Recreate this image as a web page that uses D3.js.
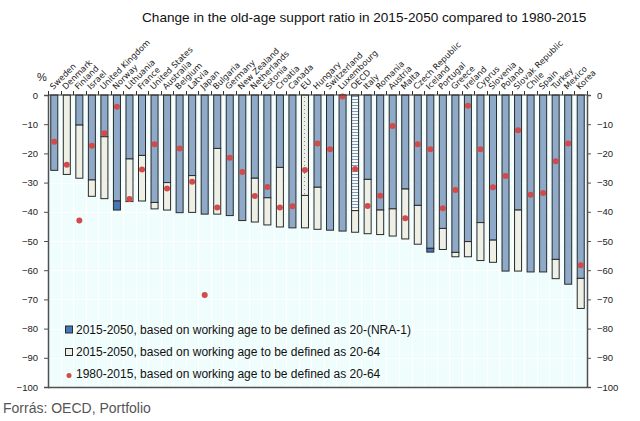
<!DOCTYPE html>
<html><head><meta charset="utf-8">
<script src="https://cdn.jsdelivr.net/npm/d3@7/dist/d3.min.js"></script>
<style>body{margin:0;background:#fff} svg{display:block}</style>
</head><body>
<svg id="chart" width="640" height="421"></svg>
<script>
const countries = ["Sweden","Denmark","Finland","Israel","United Kingdom","Norway","Lithuania","France","United States","Australia","Belgium","Latvia","Japan","Bulgaria","Germany","New Zealand","Netherlands","Estonia","Croatia","Canada","EU","Hungary","Switzerland","Luxembourg","OECD","Italy","Romania","Austria","Malta","Czech Republic","Iceland","Portugal","Greece","Ireland","Cyprus","Slovenia","Poland","Slovak Republic","Chile","Spain","Turkey","Mexico","Korea"];
// 2015-2050, working age 20-(NRA-1)
const ratioNRA = [-25.8,0,-10.3,-29.1,-14.3,-39.4,-21.9,-20.7,-36.8,-30.0,-40.3,-27.6,-40.8,-18.3,-41.3,-43.0,-28.5,-35.2,-24.8,-45.5,-34.4,-31.6,-46.3,-46.6,-39.6,-28.9,-39.4,-39.0,-32.2,-37.8,-53.8,-45.7,-53.9,-50.2,-43.7,-49.7,-60.3,-39.4,-60.6,-60.6,-56.3,-64.8,-62.8];
// 2015-2050, working age 20-64
const ratio2064 = [-25.8,-27.2,-28.5,-34.7,-35.5,-36.3,-36.5,-36.3,-39.0,-39.4,-40.3,-40.2,-40.8,-40.8,-41.3,-43.0,-43.5,-44.5,-45.2,-45.5,-45.5,-46.0,-46.3,-46.6,-47.0,-47.5,-47.8,-48.3,-49.3,-51.1,-52.5,-52.9,-55.4,-55.4,-56.7,-57.3,-60.3,-60.3,-60.6,-60.6,-62.9,-64.8,-73.1];
// 1980-2015, working age 20-64
const ratioPast = [-16.0,-23.9,-43.0,-17.4,-13.1,-4.0,-35.6,-25.5,-16.9,-32.0,-18.3,-29.7,-68.5,-38.5,-21.5,-26.4,-34.6,-31.5,-38.5,-38.1,-25.7,-16.6,-18.6,-0.5,-25.3,-38.0,-34.5,-10.6,-42.2,-16.9,-18.6,-38.8,-32.5,-3.7,-18.6,-31.6,-27.7,-12.1,-34.2,-33.6,-22.7,-16.6,-58.3];
const yTicks = [0,-10,-20,-30,-40,-50,-60,-70,-80,-90,-100];
const legendLabels = ["2015-2050, based on working age to be defined as 20-(NRA-1)","2015-2050, based on working age to be defined as 20-64","1980-2015, based on working age to be defined as 20-64"];
const titleText = "Change in the old-age support ratio in 2015-2050 compared to 1980-2015";
const sourceText = "Forrás: OECD, Portfolio";
const patterned = {"EU":"patEU","OECD":"patOECD"};

const C = {bg:"#f0fdfd", light:"#8eaac8", dark:"#4677b8", ivory:"#eef0e5", dot:"#d24a4a", stroke:"#2a2a2a", axis:"#505050"};
const svg = d3.select("#chart");
const P = {left:48, right:587, top:95, bottom:387};
const x = d3.scaleBand().domain(countries).range([P.left, P.right]).paddingInner(0.44).paddingOuter(0.22);
const y = d3.scaleLinear().domain([0,-100]).range([P.top, P.bottom]);
const data = countries.map((c,i)=>({c, nra:ratioNRA[i], w:ratio2064[i], past:ratioPast[i]}));

const defs = svg.append("defs");
const p1 = defs.append("pattern").attr("id","patEU").attr("patternUnits","userSpaceOnUse").attr("width",4).attr("height",4);
p1.append("rect").attr("width",4).attr("height",4).attr("fill",C.ivory);
p1.append("rect").attr("x",0).attr("y",1).attr("width",1).attr("height",1).attr("fill","#6d8fb8");
const p2 = defs.append("pattern").attr("id","patOECD").attr("patternUnits","userSpaceOnUse").attr("width",4).attr("height",3);
p2.append("rect").attr("width",4).attr("height",3).attr("fill","#f8f8f4");
p2.append("rect").attr("x",0).attr("y",0).attr("width",4).attr("height",1).attr("fill","#7e9dc2");

// plot background
svg.append("rect").attr("x",P.left).attr("y",P.top).attr("width",P.right-P.left).attr("height",P.bottom-P.top).attr("fill",C.bg);
// faint grid
const grid = svg.append("g").attr("stroke","#ffffff").attr("stroke-width",1);
grid.selectAll("line.h").data(yTicks.slice(1,-1)).join("line").attr("x1",P.left).attr("x2",P.right).attr("y1",d=>Math.round(y(d))+0.5).attr("y2",d=>Math.round(y(d))+0.5);
grid.selectAll("line.v").data(countries.slice(1)).join("line").attr("y1",P.top).attr("y2",P.bottom).attr("x1",d=>Math.round(x(d)-x.step()*x.paddingInner()/2)+0.5).attr("x2",d=>Math.round(x(d)-x.step()*x.paddingInner()/2)+0.5);

// bars
const bars = svg.append("g").attr("stroke",C.stroke).attr("stroke-width",1);
data.forEach(d=>{
  const bx = x(d.c), bw = x.bandwidth();
  const common = Math.max(d.nra, d.w);
  if (common < 0) {
    bars.append("rect").attr("x",bx).attr("y",y(0)).attr("width",bw).attr("height",y(common)-y(0))
      .attr("fill", patterned[d.c] ? `url(#${patterned[d.c]})` : C.light);
  }
  if (d.nra < d.w) {
    bars.append("rect").attr("x",bx).attr("y",y(d.w)).attr("width",bw).attr("height",y(d.nra)-y(d.w)).attr("fill",C.dark);
  } else if (d.w < d.nra) {
    bars.append("rect").attr("x",bx).attr("y",y(d.nra)).attr("width",bw).attr("height",y(d.w)-y(d.nra)).attr("fill",C.ivory);
  }
});
// dots
svg.append("g").selectAll("circle").data(data).join("circle")
  .attr("cx",d=>x(d.c)+x.bandwidth()/2).attr("cy",d=>y(d.past)).attr("r",3).attr("fill",C.dot);

// axes
const fontTick = "'Liberation Sans', Arial, sans-serif";
const yl = svg.append("g").attr("transform",`translate(${P.left},0)`).call(d3.axisLeft(y).tickValues(yTicks).tickSize(4).tickPadding(6));
const yr = svg.append("g").attr("transform",`translate(${P.right},0)`).call(d3.axisRight(y).tickValues(yTicks).tickSize(4).tickPadding(6));
[yl,yr].forEach(g=>{
  g.select(".domain").attr("stroke",C.axis).attr("stroke-width",1.5);
  g.selectAll(".tick line").attr("stroke",C.axis);
  g.selectAll("text").attr("font-family",fontTick).attr("font-size",9.5).attr("fill","#222");
});
// bottom border
svg.append("line").attr("x1",P.left).attr("x2",P.right).attr("y1",P.bottom+0.5).attr("y2",P.bottom+0.5).attr("stroke",C.axis).attr("stroke-width",1.5);
// zero (category) axis on top
const xa = svg.append("g").attr("transform",`translate(0,${P.top})`);
xa.append("line").attr("x1",P.left).attr("x2",P.right).attr("stroke","#333").attr("stroke-width",1);
const bounds = d3.range(countries.length+1).map(i=>P.left + (P.right-P.left)*i/countries.length);
xa.selectAll("line.t").data(bounds).join("line").attr("class","t")
  .attr("x1",d=>Math.round(d)+0.5).attr("x2",d=>Math.round(d)+0.5).attr("y1",-4).attr("y2",0).attr("stroke","#333");
xa.selectAll("text").data(countries).join("text")
  .attr("transform",d=>`translate(${x(d)+x.bandwidth()/2-1},-5) rotate(-45)`)
  .attr("font-family","'DejaVu Sans', Verdana, sans-serif").attr("font-size",8.3).attr("fill","#222")
  .text(d=>d);

// % label
svg.append("text").attr("x",37).attr("y",81).attr("font-family",fontTick).attr("font-size",11).attr("fill","#222").text("%");

// title
svg.append("text").attr("x",142).attr("y",22).attr("font-family","'Liberation Sans', Arial, sans-serif").attr("font-size",13.6).attr("fill","#111").text(titleText);

// legend
const lg = svg.append("g").attr("font-family","'Liberation Sans', Arial, sans-serif").attr("font-size",12).attr("fill","#111");
const ly = [333.5, 355.7, 377.5];
lg.append("rect").attr("x",65.5).attr("y",326).attr("width",7).attr("height",7).attr("fill",C.dark).attr("stroke",C.stroke);
lg.append("rect").attr("x",65.5).attr("y",348.5).attr("width",7).attr("height",7).attr("fill",C.ivory).attr("stroke",C.stroke);
lg.append("circle").attr("cx",69).attr("cy",375.5).attr("r",2.5).attr("fill",C.dot);
lg.selectAll("text").data(legendLabels).join("text").attr("x",76).attr("y",(d,i)=>ly[i]).text(d=>d);

// source
svg.append("text").attr("x",3).attr("y",413).attr("font-family","'Liberation Sans', Arial, sans-serif").attr("font-size",14).attr("fill","#555").text(sourceText);
</script>
</body></html>
